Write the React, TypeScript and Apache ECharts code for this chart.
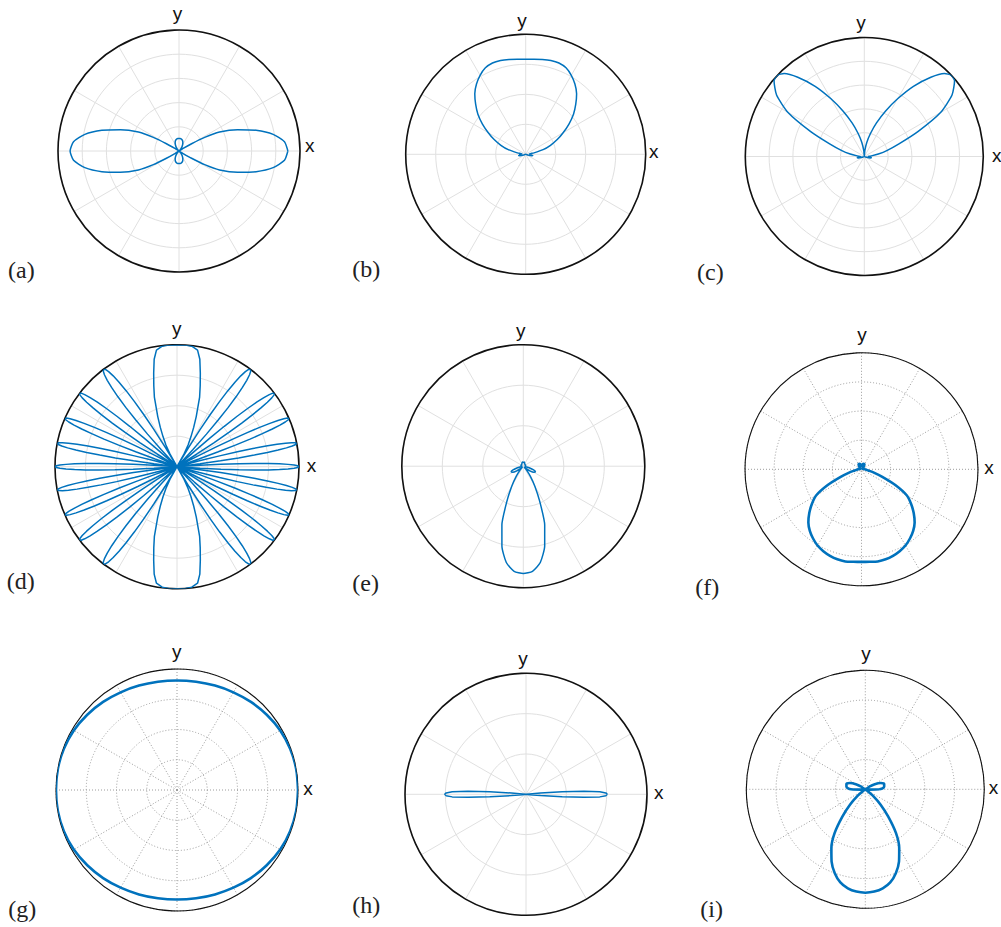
import React, { useEffect, useRef } from "react";
import * as echarts from "echarts";

// ---------- data (angle in degrees from +x, counter-clockwise; radius normalised to outer circle = 1) ----------
// (a) four-fold symmetric pattern, first quadrant
const A_ANG = [0, 5, 10, 15, 20, 25, 28, 30, 32, 35, 40, 45, 50, 55, 60, 65, 70, 75, 80, 85, 90];
const A_R = [0.9, 0.875, 0.79, 0.66, 0.515, 0.37, 0.24, 0.12, 0.04, 0, 0.005, 0.015, 0.03, 0.045, 0.06, 0.075, 0.088, 0.096, 0.101, 0.103, 0.104];

// (b) upper half (symmetric about y), lower half small residue (angle below horizontal)
const B_ANG = [0, 5, 10, 15, 20, 25, 30, 35, 40, 45, 50, 55, 60, 65, 70, 75, 80, 85, 90];
const B_R = [0.05, 0.03, 0.07, 0.15, 0.22, 0.29, 0.36, 0.44, 0.52, 0.59, 0.66, 0.715, 0.76, 0.795, 0.81, 0.81, 0.803, 0.795, 0.792];
const B_LOW_ANG = [5, 10, 15, 20, 25, 30, 45, 60, 75, 90];
const B_LOW_R = [0.04, 0.06, 0.05, 0.02, 0, 0, 0, 0, 0, 0];

// (c) right lobe (mirrored about y), small residue below
const C_ANG = [0, 5, 10, 15, 20, 25, 30, 35, 40, 43, 46, 50, 55, 60, 65, 70, 75, 80, 85, 90];
const C_R = [0.03, 0.06, 0.12, 0.2, 0.31, 0.5, 0.74, 0.9, 0.99, 1.0, 0.97, 0.87, 0.72, 0.56, 0.42, 0.3, 0.2, 0.12, 0.05, 0];
const C_LOW_ANG = [5, 10, 15, 20, 25, 30, 45, 60, 75, 90];
const C_LOW_R = [0.05, 0.06, 0.05, 0.02, 0, 0, 0, 0, 0, 0];

// (d) narrow lobes: directions, angular half-widths, and common petal profile; wide lobe along y
const D_LOBE_DIR = [0, 11, 23.3, 37, 53, 127, 143, 156.7, 169, 180, 191, 203.3, 217, 233, 307, 323, 336.7, 349];
const D_LOBE_HALF = [4, 4.1, 4.3, 5, 6.4, 6.4, 5, 4.3, 4.1, 4, 4.1, 4.3, 5, 6.4, 6.4, 5, 4.3, 4.1];
const PETAL_U = [0, 0.1, 0.2, 0.3, 0.4, 0.5, 0.6, 0.7, 0.8, 0.9, 1.0];
const PETAL_R = [1, 0.99, 0.96, 0.91, 0.84, 0.75, 0.64, 0.51, 0.36, 0.19, 0];
const D_WIDE_ANG = [60, 61, 63, 65, 67, 69, 72, 74, 76, 78, 80, 83, 86, 90];
const D_WIDE_R = [0, 0.12, 0.2, 0.27, 0.35, 0.44, 0.6, 0.69, 0.79, 0.9, 0.97, 0.995, 1.0, 1.0];

// (e) lobe pointing down: offset from straight down (deg) -> radius
const E_D = [0, 5, 10, 15, 20, 25, 30, 35, 40, 45, 50, 55, 60, 65, 70, 75, 80, 90, 100, 120, 140, 160, 170, 180];
const E_R = [0.883, 0.868, 0.805, 0.68, 0.515, 0.32, 0.19, 0.1, 0.04, 0.01, 0.03, 0.07, 0.1, 0.11, 0.09, 0.05, 0.02, 0.01, 0.02, 0.02, 0.02, 0.03, 0.035, 0.03];

// (f) lower balloon (angle below horizontal), small residue above
const F_LOW_ANG = [0, 5, 10, 15, 20, 25, 30, 35, 40, 45, 50, 55, 60, 65, 70, 75, 80, 85, 90];
const F_LOW_R = [0.03, 0.04, 0.06, 0.11, 0.19, 0.32, 0.45, 0.52, 0.585, 0.645, 0.69, 0.725, 0.755, 0.775, 0.79, 0.8, 0.803, 0.797, 0.795];
const F_UP_ANG = [10, 30, 50, 60, 70, 80, 90];
const F_UP_R = [0.02, 0.01, 0.03, 0.05, 0.05, 0.04, 0.03];

// (g) nearly circular, first quadrant
const G_ANG = [0, 10, 20, 30, 40, 50, 60, 70, 80, 90];
const G_R = [1.0, 1.0, 0.995, 0.985, 0.968, 0.95, 0.932, 0.918, 0.908, 0.905];

// (h) narrow horizontal lobes, first quadrant
const H_ANG = [0, 1, 2, 3, 4, 5, 6, 8, 15, 30, 45, 60, 75, 90];
const H_R = [0.672, 0.66, 0.61, 0.48, 0.3, 0.12, 0.03, 0, 0, 0, 0, 0, 0, 0];

// (i) small upper wings (angle above horizontal) and lower lobe (angle below horizontal)
const I_UP_ANG = [0, 3, 8, 16, 22, 28, 33, 38, 60, 90];
const I_UP_R = [0.12, 0.145, 0.16, 0.165, 0.14, 0.09, 0.04, 0, 0, 0];
const I_LOW_ANG = [5, 10, 20, 30, 35, 40, 45, 50, 55, 60, 65, 70, 75, 80, 85, 90];
const I_LOW_R = [0.03, 0, 0, 0, 0.02, 0.08, 0.18, 0.3, 0.45, 0.57, 0.67, 0.75, 0.81, 0.845, 0.863, 0.869];

const LABELS = ["(a)", "(b)", "(c)", "(d)", "(e)", "(f)", "(g)", "(h)", "(i)"];
const RING_STEP = [0.2, 0.25, 0.2, 0.25, 1 / 3, 0.25, 0.25, 1 / 3, 0.25];

// ---------- helpers building the (angle, r) tables ----------
type Pt = [number, number];
const quad = (a: number[], r: number[]): Pt[] =>
  a.flatMap((t, i) => [[t, r[i]], [180 - t, r[i]], [180 + t, r[i]], [360 - t, r[i]]] as Pt[]);
const upper = (a: number[], r: number[]): Pt[] => a.flatMap((t, i) => [[t, r[i]], [180 - t, r[i]]] as Pt[]);
const lower = (a: number[], r: number[]): Pt[] => a.flatMap((t, i) => [[360 - t, r[i]], [180 + t, r[i]]] as Pt[]);
const down = (d: number[], r: number[]): Pt[] => d.flatMap((t, i) => [[270 - t, r[i]], [270 + t, r[i]]] as Pt[]);
const petals = (dirs: number[], halves: number[]): Pt[] =>
  dirs.flatMap((c, k) => PETAL_U.flatMap((u, i) => [[c + halves[k] * u, PETAL_R[i]], [c - halves[k] * u, PETAL_R[i]]] as Pt[]));

function loop(pts: Pt[]): number[][] {
  const s = pts
    .map(([a, r]) => [((a % 360) + 360) % 360, r] as Pt)
    .sort((p, q) => p[0] - q[0]);
  const u: Pt[] = [];
  s.forEach((p) => {
    if (!u.length || Math.abs(u[u.length - 1][0] - p[0]) > 1e-9) u.push(p);
  });
  const out = u.map(([a, r]) => [r, a]);
  out.push([u[0][1], u[0][0] + 360]);
  return out;
}

const DATA = [
  loop(quad(A_ANG, A_R)),
  loop([...upper(B_ANG, B_R), ...lower(B_LOW_ANG, B_LOW_R)]),
  loop([...upper(C_ANG, C_R), ...lower(C_LOW_ANG, C_LOW_R)]),
  loop([...petals(D_LOBE_DIR, D_LOBE_HALF), ...upper(D_WIDE_ANG, D_WIDE_R), ...lower(D_WIDE_ANG, D_WIDE_R)]),
  loop(down(E_D, E_R)),
  loop([...lower(F_LOW_ANG, F_LOW_R), ...upper(F_UP_ANG, F_UP_R)]),
  loop(quad(G_ANG, G_R)),
  loop(quad(H_ANG, H_R)),
  loop([...upper(I_UP_ANG, I_UP_R), ...lower(I_LOW_ANG, I_LOW_R)]),
];

// ---------- layout / style (pixels) ----------
const LAYOUT = [
  { c: [179, 151], r: 121, dotted: false, smooth: 0.2, xl: [305, 146.7], yl: [177.5, 17.5], lab: [8, 271.7] },
  { c: [525.7, 154.3], r: 120, dotted: false, smooth: 0.2, xl: [649, 153], yl: [522, 24.2], lab: [352.3, 271] },
  { c: [864.3, 156.5], r: 119, dotted: false, smooth: 0.2, xl: [992, 156.7], yl: [861, 25.8], lab: [697, 273.5] },
  { c: [177, 466.7], r: 122, dotted: false, smooth: 0, xl: [306.7, 466.7], yl: [176.7, 332.5], lab: [6.7, 583.3] },
  { c: [523.3, 466.2], r: 121.5, dotted: false, smooth: 0.2, xl: null, yl: [520.7, 334.2], lab: [352.3, 585] },
  { c: [861.5, 469.3], r: 116.5, dotted: true, smooth: 0.2, xl: [984.3, 469.5], yl: [862, 338.3], lab: [695.3, 589] },
  { c: [177, 790], r: 121, dotted: true, smooth: 0.3, xl: [303.3, 790], yl: [176.7, 655.5], lab: [8.3, 911] },
  { c: [526, 794.3], r: 121, dotted: false, smooth: 0, xl: [654, 793.8], yl: [523, 662.2], lab: [352.3, 906.7] },
  { c: [865.3, 789.3], r: 119, dotted: true, smooth: 0.2, xl: [988.7, 789.5], yl: [866, 657.5], lab: [700.3, 911] },
];

const BLUE = "#0072BD";

export default function App() {
  const ref = useRef<HTMLDivElement>(null);
  useEffect(() => {
    const chart = echarts.init(ref.current!, null, { renderer: "svg" });
    const polar: any[] = [];
    const angleAxis: any[] = [];
    const radiusAxis: any[] = [];
    const series: any[] = [];
    const graphic: any[] = [];
    LAYOUT.forEach((p, i) => {
      const grid = p.dotted
        ? { color: "#9c9c9c", width: 1, type: [1, 2] }
        : { color: "#e0e0e0", width: 1, type: "solid" };
      polar.push({ center: p.c, radius: p.r });
      angleAxis.push({
        polarIndex: i, type: "value", min: 0, max: 360, interval: 30, startAngle: 0, clockwise: false,
        axisLine: { show: true, lineStyle: { color: "#111", width: p.dotted ? 1.1 : 1.6 } },
        axisTick: { show: false }, axisLabel: { show: false },
        splitLine: { show: true, lineStyle: grid },
      });
      radiusAxis.push({
        polarIndex: i, type: "value", min: 0, max: 1, interval: RING_STEP[i],
        axisLine: { show: false }, axisTick: { show: false }, axisLabel: { show: false },
        splitLine: { show: true, lineStyle: grid },
      });
      series.push({
        type: "line", coordinateSystem: "polar", polarIndex: i, data: DATA[i],
        showSymbol: false, smooth: p.smooth, clip: false, silent: true,
        lineStyle: { color: BLUE, width: p.dotted ? 2.6 : 1.5 },
      });
      const sans = '19px "Liberation Sans", Arial, sans-serif';
      graphic.push({
        type: "text", x: p.yl[0], y: p.yl[1] - 3.6,
        style: { text: "y", font: sans, fill: "#111", align: "center", verticalAlign: "middle", textAlign: "center", textVerticalAlign: "middle" },
      });
      if (p.xl) {
        graphic.push({
          type: "text", x: p.xl[0], y: p.xl[1] - 1.6,
          style: { text: "x", font: sans, fill: "#111", align: "left", verticalAlign: "middle", textAlign: "left", textVerticalAlign: "middle" },
        });
      }
      graphic.push({
        type: "text", x: p.lab[0], y: p.lab[1] - 2,
        style: { text: LABELS[i], font: '24px "Liberation Serif", "DejaVu Serif", serif', fill: "#222", align: "left", verticalAlign: "middle", textAlign: "left", textVerticalAlign: "middle" },
      });
    });
    chart.setOption({ animation: false, polar, angleAxis, radiusAxis, series, graphic });
    return () => chart.dispose();
  }, []);
  return (
    <div
      ref={ref}
      style={{ position: "fixed", left: 0, top: 0, width: 1001, height: 927, background: "#fff" }}
    />
  );
}
